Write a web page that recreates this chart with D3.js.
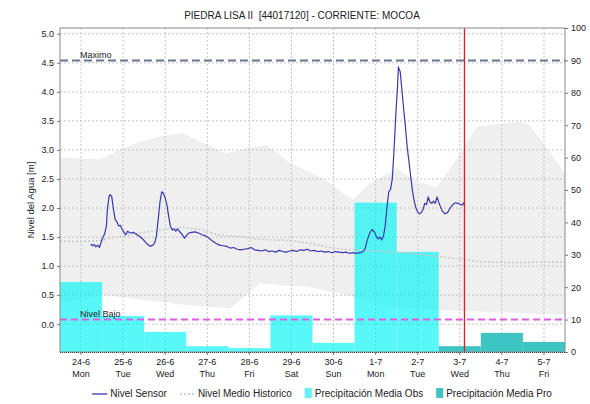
<!DOCTYPE html>
<html>
<head>
<meta charset="utf-8">
<script src="https://cdn.jsdelivr.net/npm/d3@7"></script>
<style>
  body { margin: 0; background: #fff; }
  svg { display: block; font-family: "Liberation Sans", Arial, sans-serif; }
</style>
</head>
<body>
<svg id="chart" width="590" height="404"></svg>
<script>
// ---- data ----
const chartTitle = "PIEDRA LISA II  [44017120] - CORRIENTE: MOCOA";
const dayDates  = ["2019-06-24","2019-06-25","2019-06-26","2019-06-27","2019-06-28","2019-06-29",
                   "2019-06-30","2019-07-01","2019-07-02","2019-07-03","2019-07-04","2019-07-05"];
const dayLabels = ["24-6","25-6","26-6","27-6","28-6","29-6","30-6","1-7","2-7","3-7","4-7","5-7"];
const dayNames  = ["Mon","Tue","Wed","Thu","Fri","Sat","Sun","Mon","Tue","Wed","Thu","Fri"];

// daily precipitation (right axis, mm)
const precipObsDays  = ["2019-06-24","2019-06-25","2019-06-26","2019-06-27","2019-06-28",
                        "2019-06-29","2019-06-30","2019-07-01","2019-07-02"];
const precipObs      = [21.6, 11.1, 6.2, 1.8, 1.2, 11.3, 2.8, 46.1, 30.9];
const precipProDays  = ["2019-07-03","2019-07-04","2019-07-05"];
const precipPro      = [1.8, 5.9, 3.1];

// reference levels (m)
const nivelMaximo = 4.54;
const nivelBajo   = 0.08;
const nowTime     = "2019-07-03 14:40";

// sensor water level (m)
const nivelSensor = [
  ["06-24 17:30",1.38],["06-24 18:30",1.35],["06-24 19:30",1.37],["06-24 20:30",1.33],
  ["06-24 21:30",1.36],["06-24 22:30",1.32],["06-25 00:00",1.46],["06-25 01:30",1.56],
  ["06-25 02:30",1.70],["06-25 03:00",1.97],["06-25 04:00",2.20],["06-25 04:30",2.23],
  ["06-25 05:30",2.20],["06-25 06:30",1.97],["06-25 07:30",1.80],["06-25 08:30",1.76],
  ["06-25 09:30",1.69],["06-25 10:30",1.70],["06-25 11:30",1.63],["06-25 12:30",1.58],
  ["06-25 13:30",1.54],["06-25 14:30",1.60],["06-25 16:00",1.57],["06-25 18:00",1.58],
  ["06-25 19:30",1.55],["06-25 21:30",1.51],["06-25 23:00",1.47],["06-26 00:30",1.42],
  ["06-26 02:00",1.37],["06-26 03:30",1.34],["06-26 05:00",1.36],["06-26 06:00",1.40],
  ["06-26 07:00",1.52],["06-26 08:00",1.80],["06-26 09:00",2.10],["06-26 10:00",2.28],
  ["06-26 11:00",2.25],["06-26 12:00",2.17],["06-26 13:00",2.05],["06-26 14:00",1.85],
  ["06-26 15:00",1.68],["06-26 16:00",1.62],["06-26 17:00",1.64],["06-26 18:00",1.60],
  ["06-26 19:00",1.64],["06-26 20:00",1.60],["06-26 21:30",1.55],["06-26 23:00",1.48],
  ["06-27 00:00",1.52],["06-27 01:30",1.57],["06-27 03:00",1.58],["06-27 05:00",1.59],
  ["06-27 07:00",1.57],["06-27 09:00",1.54],["06-27 11:00",1.52],["06-27 13:00",1.48],
  ["06-27 15:00",1.43],["06-27 17:00",1.39],["06-27 19:00",1.36],["06-27 21:00",1.35],
  ["06-27 23:00",1.34],["06-28 01:00",1.31],["06-28 03:00",1.32],["06-28 05:00",1.29],
  ["06-28 07:00",1.28],["06-28 09:00",1.29],["06-28 11:00",1.30],["06-28 13:00",1.32],
  ["06-28 15:00",1.28],["06-28 17:00",1.27],["06-28 19:00",1.26],["06-28 21:00",1.28],
  ["06-28 23:00",1.25],["06-29 01:00",1.26],["06-29 03:00",1.24],["06-29 05:00",1.27],
  ["06-29 07:00",1.25],["06-29 09:00",1.24],["06-29 11:00",1.26],["06-29 13:00",1.27],
  ["06-29 15:00",1.25],["06-29 17:00",1.28],["06-29 19:00",1.27],["06-29 21:00",1.29],
  ["06-29 23:00",1.26],["06-30 01:00",1.27],["06-30 03:00",1.25],["06-30 05:00",1.26],
  ["06-30 07:00",1.24],["06-30 09:00",1.25],["06-30 11:00",1.23],["06-30 13:00",1.25],
  ["06-30 15:00",1.24],["06-30 17:00",1.23],["06-30 19:00",1.24],["06-30 21:00",1.22],
  ["06-30 23:00",1.23],["07-01 01:00",1.22],["07-01 03:00",1.23],["07-01 05:00",1.25],
  ["07-01 06:00",1.30],["07-01 07:00",1.42],["07-01 08:30",1.56],["07-01 10:00",1.63],
  ["07-01 11:30",1.58],["07-01 12:30",1.50],["07-01 13:30",1.47],["07-01 14:30",1.50],
  ["07-01 15:30",1.45],["07-01 16:30",1.52],["07-01 17:30",1.70],["07-01 18:30",2.02],
  ["07-01 19:30",2.28],["07-01 20:30",2.32],["07-01 21:30",2.50],["07-01 22:30",3.00],
  ["07-01 23:30",3.60],["07-02 00:30",4.10],["07-02 01:00",4.43],["07-02 01:30",4.38],
  ["07-02 02:00",4.35],["07-02 03:00",4.03],["07-02 04:00",3.70],["07-02 05:00",3.40],
  ["07-02 06:00",3.05],["07-02 07:00",2.80],["07-02 08:00",2.54],["07-02 09:00",2.30],
  ["07-02 10:00",2.12],["07-02 11:00",2.00],["07-02 12:00",1.93],["07-02 13:00",1.90],
  ["07-02 14:00",1.92],["07-02 15:00",1.97],["07-02 16:00",2.08],["07-02 17:00",2.06],
  ["07-02 18:00",2.19],["07-02 19:00",2.10],["07-02 20:00",2.08],["07-02 21:00",2.12],
  ["07-02 22:00",2.08],["07-02 23:00",2.19],["07-03 00:00",2.10],["07-03 01:00",2.02],
  ["07-03 02:00",1.95],["07-03 03:30",1.90],["07-03 05:00",1.92],["07-03 06:30",2.00],
  ["07-03 08:00",2.06],["07-03 09:30",2.09],["07-03 11:00",2.08],["07-03 12:30",2.06],
  ["07-03 13:30",2.05],["07-03 14:30",2.10]
];

// historical mean level (m)
const nivelHistorico = [
  ["06-24 00:00",1.43],["06-24 11:30",1.42],["06-24 23:00",1.44],["06-25 04:30",1.48],
  ["06-25 14:00",1.53],["06-26 01:30",1.59],["06-26 09:00",1.62],["06-26 22:00",1.67],
  ["06-27 08:00",1.63],["06-27 19:00",1.53],["06-28 06:30",1.51],["06-28 12:30",1.48],
  ["06-29 00:00",1.45],["06-29 11:00",1.44],["06-29 22:30",1.39],["06-30 10:00",1.32],
  ["06-30 17:30",1.29],["07-01 01:00",1.28],["07-01 09:00",1.26],["07-01 20:00",1.25],
  ["07-02 08:00",1.22],["07-02 19:00",1.18],["07-03 14:00",1.12],["07-03 23:30",1.07],
  ["07-04 18:30",1.06],["07-06 00:00",1.07]
];

// historical range band (m): upper and lower envelope
const historicoMax = [
  ["06-24 00:00",2.87],["06-24 23:00",2.84],["06-25 10:00",3.00],["06-25 21:30",3.14],
  ["06-26 09:00",3.23],["06-26 22:00",3.29],["06-27 08:00",3.14],["06-27 23:00",2.94],
  ["06-28 10:30",3.03],["06-28 22:00",3.09],["06-29 11:00",2.78],["06-30 06:00",2.51],
  ["06-30 23:00",2.14],["07-01 09:00",2.43],["07-02 00:00",2.68],["07-02 11:30",2.45],
  ["07-02 23:00",2.36],["07-03 10:00",2.83],["07-03 21:30",3.40],["07-04 22:30",3.49],
  ["07-05 04:00",3.43],["07-05 11:30",3.12],["07-06 00:00",2.60]
];
const historicoMin = [
  ["06-24 00:00",0.36],["06-25 00:30",0.50],["06-26 01:30",0.41],["06-27 01:00",0.33],
  ["06-28 01:00",0.27],["06-28 18:00",0.70],["06-29 11:00",0.66],["06-29 22:30",0.64],
  ["06-30 23:00",0.47],["07-02 00:00",0.30],["07-03 00:00",0.24],["07-06 00:00",0.16]
];

// ---- layout ----
const plot = { left: 60, right: 565, top: 28, bottom: 352 };
const svg = d3.select("#chart");

const parseDay = d3.timeParse("%Y-%m-%d");
const parseFull = d3.timeParse("%Y-%m-%d %H:%M");
const parseMD  = s => parseFull("2019-" + s);

const x = d3.scaleTime()
  .domain([parseDay("2019-06-24"), parseDay("2019-07-06")])
  .range([plot.left, plot.right]);
const yL = d3.scaleLinear().domain([-0.48, 5.1]).range([plot.bottom, plot.top]);
const yR = d3.scaleLinear().domain([0, 100]).range([plot.bottom, plot.top]);

const noon = d => d3.timeHour.offset(parseDay(d), 12);
const dayEnd = d => d3.timeDay.offset(parseDay(d), 1);

svg.append("clipPath").attr("id", "plotClip")
  .append("rect").attr("x", plot.left).attr("y", plot.top)
  .attr("width", plot.right - plot.left).attr("height", plot.bottom - plot.top);

const g = svg.append("g").attr("clip-path", "url(#plotClip)");

// historical range band
const maxPts = historicoMax.map(d => [parseMD(d[0]), d[1]]);
const minPts = historicoMin.map(d => [parseMD(d[0]), d[1]]);
const interp = (pts, t) => {
  const i = d3.bisector(p => p[0]).right(pts, t);
  if (i <= 0) return pts[0][1];
  if (i >= pts.length) return pts[pts.length - 1][1];
  const a = pts[i - 1], b = pts[i];
  return a[1] + (b[1] - a[1]) * (t - a[0]) / (b[0] - a[0]);
};
const bandTimes = Array.from(new Set([...maxPts, ...minPts].map(p => +p[0])))
  .sort((a, b) => a - b).map(t => new Date(t));
const band = bandTimes.map(t => ({ t, hi: interp(maxPts, t), lo: interp(minPts, t) }));
g.append("path")
  .datum(band)
  .attr("fill", "#efefef")
  .attr("d", d3.area().x(d => x(d.t)).y0(d => yL(d.lo)).y1(d => yL(d.hi)));

// grid
const gridColor = "#c4c4c4";
g.append("g").selectAll("line").data(dayDates).join("line")
  .attr("x1", d => x(noon(d))).attr("x2", d => x(noon(d)))
  .attr("y1", plot.top).attr("y2", plot.bottom)
  .attr("stroke", gridColor).attr("stroke-dasharray", "2,2");
const leftTicks = d3.range(0, 5.01, 0.5);
g.append("g").selectAll("line").data(leftTicks).join("line")
  .attr("x1", plot.left).attr("x2", plot.right)
  .attr("y1", d => yL(d)).attr("y2", d => yL(d))
  .attr("stroke", gridColor).attr("stroke-dasharray", "2,2");

// precipitation bars
g.append("g").selectAll("rect").data(precipObs.map((v, i) => [precipObsDays[i], v])).join("rect")
  .attr("x", d => x(parseDay(d[0])))
  .attr("width", d => x(dayEnd(d[0])) - x(parseDay(d[0])))
  .attr("y", d => yR(d[1]))
  .attr("height", d => yR(0) - yR(d[1]))
  .attr("fill", "#00f5f5").attr("fill-opacity", 0.65);
g.append("g").selectAll("rect").data(precipPro.map((v, i) => [precipProDays[i], v])).join("rect")
  .attr("x", d => x(parseDay(d[0])))
  .attr("width", d => x(dayEnd(d[0])) - x(parseDay(d[0])))
  .attr("y", d => yR(d[1]))
  .attr("height", d => yR(0) - yR(d[1]))
  .attr("fill", "#3fc4c4");

// historical mean
g.append("path")
  .datum(nivelHistorico.map(d => [parseMD(d[0]), d[1]]))
  .attr("fill", "none").attr("stroke", "#c8c8c8").attr("stroke-width", 1.5)
  .attr("stroke-dasharray", "2,2")
  .attr("d", d3.line().x(d => x(d[0])).y(d => yL(d[1])));

// reference levels
const refLine = (v, color, dash) => g.append("line")
  .attr("x1", plot.left).attr("x2", plot.right)
  .attr("y1", yL(v)).attr("y2", yL(v))
  .attr("stroke", color).attr("stroke-width", 2).attr("stroke-dasharray", dash);
refLine(nivelMaximo, "#6a7694", "8,4");
refLine(nivelBajo, "#e45ae4", "7,4");
svg.append("text").attr("x", 80).attr("y", yL(nivelMaximo) - 3)
  .attr("font-size", 9).attr("fill", "#222").text("Maximo");
svg.append("text").attr("x", 80).attr("y", yL(nivelBajo) - 2)
  .attr("font-size", 9).attr("fill", "#222").text("Nivel Bajo");

// sensor line
g.append("path")
  .datum(nivelSensor.map(d => [parseMD(d[0]), d[1]]))
  .attr("fill", "none").attr("stroke", "#3838b0").attr("stroke-width", 1.2)
  .attr("stroke-linejoin", "round")
  .attr("d", d3.line().x(d => x(d[0])).y(d => yL(d[1])));

// current time marker
g.append("line")
  .attr("x1", x(parseFull(nowTime))).attr("x2", x(parseFull(nowTime)))
  .attr("y1", plot.top).attr("y2", plot.bottom)
  .attr("stroke", "#e01e1e").attr("stroke-width", 1.3);

// plot frame
svg.append("rect").attr("x", plot.left).attr("y", plot.top)
  .attr("width", plot.right - plot.left).attr("height", plot.bottom - plot.top)
  .attr("fill", "none").attr("stroke", "#8a8a8a").attr("stroke-width", 1);
svg.append("line").attr("x1", plot.left).attr("x2", plot.right)
  .attr("y1", plot.bottom + 0.5).attr("y2", plot.bottom + 0.5)
  .attr("stroke", "#444").attr("stroke-dasharray", "1,1");

// axes
const axisL = d3.axisLeft(yL).tickValues(leftTicks).tickFormat(d3.format(".1f")).tickSize(3).tickPadding(3);
const gl = svg.append("g").attr("transform", `translate(${plot.left},0)`).call(axisL);
const axisR = d3.axisRight(yR).tickValues(d3.range(0, 101, 10)).tickSize(3).tickPadding(3);
const gr = svg.append("g").attr("transform", `translate(${plot.right},0)`).call(axisR);
[gl, gr].forEach(a => {
  a.select(".domain").remove();
  a.selectAll(".tick line").attr("stroke", "#777");
  a.selectAll(".tick text").attr("font-size", 9).attr("fill", "#222")
    .attr("font-family", "'Liberation Sans', Arial, sans-serif");
});

// x labels: date and weekday
const xl = svg.append("g").selectAll("g").data(dayDates).join("g")
  .attr("transform", d => `translate(${x(noon(d))},0)`);
xl.append("line").attr("y1", plot.bottom).attr("y2", plot.bottom + 3).attr("stroke", "#777");
xl.append("text").attr("y", 365).attr("text-anchor", "middle").attr("font-size", 9)
  .attr("fill", "#222").text((d, i) => dayLabels[i]);
xl.append("text").attr("y", 377).attr("text-anchor", "middle").attr("font-size", 9)
  .attr("fill", "#222").text((d, i) => dayNames[i]);

// y-axis title
svg.append("text")
  .attr("transform", `translate(34,${(plot.top + plot.bottom) / 2 + 10}) rotate(-90)`)
  .attr("text-anchor", "middle").attr("font-size", 9.5).attr("fill", "#222")
  .text("Nivel del Agua [m]");

// title
svg.append("text").attr("x", 302).attr("y", 19).attr("text-anchor", "middle")
  .attr("font-size", 10).attr("fill", "#222").style("white-space", "pre")
  .text(chartTitle);

// legend
const legendItems = [
  { label: "Nivel Sensor", type: "line", color: "#3838b0" },
  { label: "Nivel Medio Historico", type: "dots", color: "#c0c0c0" },
  { label: "Precipitación Media Obs", type: "box", color: "#5ff5f5" },
  { label: "Precipitación Media Pro", type: "box", color: "#3fc4c4" }
];
const lg = svg.append("g");
const ly = 397;
const itemGap = 13;
let lx = 0;
legendItems.forEach(item => {
  const it = lg.append("g").attr("transform", `translate(${lx},0)`);
  let sw;
  if (item.type === "line" || item.type === "dots") {
    it.append("line").attr("x1", 0).attr("x2", 15).attr("y1", ly - 3).attr("y2", ly - 3)
      .attr("stroke", item.color).attr("stroke-width", item.type === "line" ? 1.3 : 1.5)
      .attr("stroke-dasharray", item.type === "dots" ? "2,2" : null);
    sw = 18;
  } else {
    it.append("rect").attr("x", 0).attr("y", ly - 9).attr("width", 7).attr("height", 10)
      .attr("fill", item.color);
    sw = 10;
  }
  const t = it.append("text").attr("x", sw).attr("y", ly).attr("font-size", 10)
    .attr("fill", "#222").text(item.label);
  lx += sw + t.node().getComputedTextLength() + itemGap;
});
const lw = lx - itemGap;
lg.attr("transform", `translate(${322 - lw / 2},0)`);
</script>
</body>
</html>
